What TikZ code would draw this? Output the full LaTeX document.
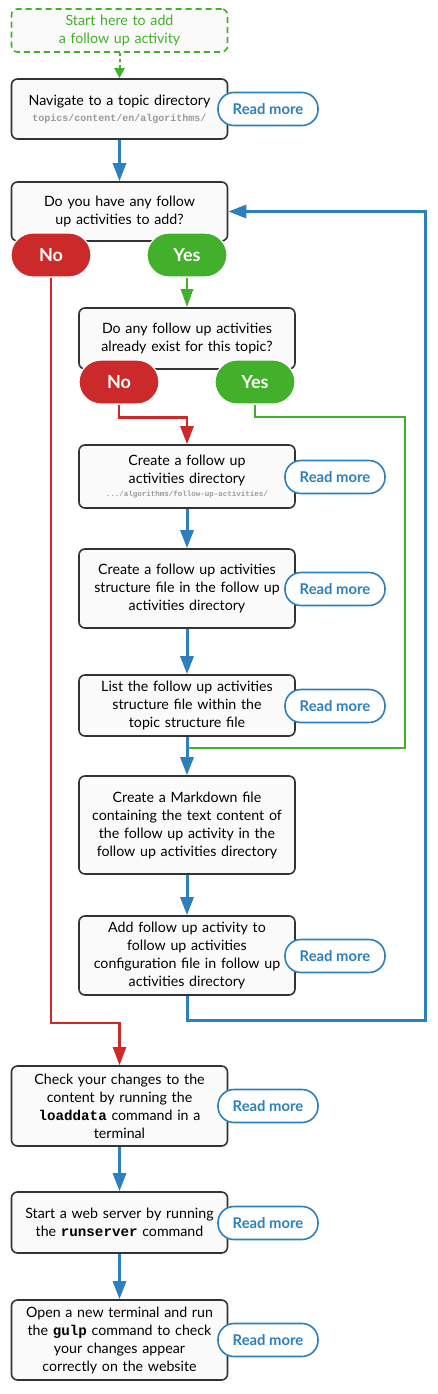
\documentclass[tikz,border=0pt]{standalone}
\usepackage{fontspec}
\setmainfont{Lato}
\newfontfamily\codefont{Liberation Mono}
\usetikzlibrary{arrows.meta}

\definecolor{flowblue}{HTML}{2B80BD}
\definecolor{flowred}{HTML}{CC2A2A}
\definecolor{flowgreen}{HTML}{42B02A}
\definecolor{boxline}{HTML}{333333}
\definecolor{boxfill}{HTML}{FAFAFA}
\definecolor{pathgray}{HTML}{999999}

\newcommand{\cmd}[1]{{\codefont\bfseries #1}}
\newcommand{\pathtext}[2]{{\codefont\bfseries\fontsize{#1}{10}\selectfont\color{pathgray}#2}}

\begin{document}
\begin{tikzpicture}[x=1pt, y=-1pt,
    stepbox/.style={draw=boxline, line width=1.6pt, fill=boxfill, rounded corners=6pt,
        minimum width=216pt, text width=214pt, align=center, inner sep=0pt,
        font=\fontsize{14.2}{18}\selectfont},
    startbox/.style={stepbox, draw=flowgreen, dash pattern=on 6pt off 4pt, text=flowgreen},
    readmore/.style={draw=flowblue, line width=1.6pt, fill=white, rounded corners=16pt,
        minimum width=100pt, minimum height=33pt, inner sep=0pt, text=flowblue,
        font=\fontsize{14.8}{16}\selectfont\bfseries},
    answer/.style={draw=white, line width=1.2pt, rounded corners=22pt, minimum width=80pt,
        minimum height=44pt, inner sep=0pt, text=white, font=\fontsize{18}{20}\selectfont\bfseries},
    noanswer/.style={answer, fill=flowred},
    yesanswer/.style={answer, fill=flowgreen},
    blueflow/.style={draw=flowblue, line width=3pt, -{Triangle[length=18pt,width=13pt]}},
    redflow/.style={draw=flowred, line width=2.5pt, -{Triangle[length=18pt,width=13pt]}},
    greenflow/.style={draw=flowgreen, line width=2.5pt, -{Triangle[length=18pt,width=12pt]}},
]
\useasboundingbox (0,0) rectangle (437,1394);

    % Start
    \node[startbox, minimum height=43pt] (start) at (119.5,30.5) {Start here to add\\a follow up activity};

    % Topic directory
    \node[stepbox, minimum height=60pt] (nav) at (119.5,109)
        {Navigate to a topic directory\\[-2pt]\pathtext{10}{topics/content/en/algorithms/}};
    \node[readmore] (rmnav) at (268,109) {Read more};

    % First question
    \node[stepbox, minimum height=59pt] (haveq) at (119.5,211.5) {Do you have any follow\\up activities to add?};
    \node[noanswer] (noa) at (51,255) {No};
    \node[yesanswer] (yesa) at (187,255) {Yes};

    % Second question
    \node[stepbox, minimum height=61pt] (existq) at (187,338.5) {Do any follow up activities\\already exist for this topic?};
    \node[noanswer] (nob) at (119,382) {No};
    \node[yesanswer] (yesb) at (255,382) {Yes};

    % Follow up activities directory
    \node[stepbox, minimum height=63pt] (mkdir) at (187,476.5)
        {Create a follow up\\activities directory\\[-5pt]\pathtext{7.5}{.../algorithms/follow-up-activities/}};
    \node[readmore] (rmmkdir) at (335,477) {Read more};

    \node[stepbox, minimum height=79pt] (structfile) at (187,588.5)
        {Create a follow up activities\\structure file in the follow up\\activities directory};
    \node[readmore] (rmstruct) at (335,589) {Read more};

    \node[stepbox, minimum height=61pt] (listfile) at (187,705.5)
        {List the follow up activities\\structure file within the\\topic structure file};
    \node[readmore] (rmlist) at (335,706) {Read more};

    \node[stepbox, minimum height=98pt] (mdfile) at (187,825)
        {Create a Markdown file\\containing the text content of\\the follow up activity in the\\follow up activities directory};

    \node[stepbox, minimum height=79pt] (config) at (187,955.5)
        {Add follow up activity to\\follow up activities\\configuration file in follow up\\activities directory};
    \node[readmore] (rmconfig) at (335,956) {Read more};

    % Checking the changes
    \node[stepbox, minimum height=80pt] (check) at (119.5,1106)
        {Check your changes to the\\content by running the\\\cmd{loaddata} command in a\\terminal};
    \node[readmore] (rmcheck) at (268,1106) {Read more};

    \node[stepbox, minimum height=61pt] (server) at (119.5,1222.5)
        {Start a web server by running\\the \cmd{runserver} command};
    \node[readmore] (rmserver) at (268,1223) {Read more};

    \node[stepbox, minimum height=80pt] (gulp) at (119.5,1340)
        {Open a new terminal and run\\the \cmd{gulp} command to check\\your changes appear\\correctly on the website};
    \node[readmore] (rmgulp) at (268,1340) {Read more};

    % Connectors
    \draw[flowgreen, line width=2pt, dash pattern=on 3pt off 3pt, -{Triangle[length=10pt,width=10pt]}] (start) -- (nav);
    \draw[blueflow] (nav) -- (haveq);
    \draw[greenflow] (yesa) -- (existq);

    \coordinate (redturn) at (51,1023);
    \draw[redflow] (noa.south) -- (redturn) -| (check.north);

    \draw[redflow] (nob.south) -- ++(0,13) -| (mkdir.north);

    \coordinate (greenturn) at (405,417);
    \coordinate (greenjoin) at (187,748);
    \draw[flowgreen, line width=2.5pt] (yesb.south) |- (greenturn) |- (greenjoin);

    \draw[blueflow] (mkdir) -- (structfile);
    \draw[blueflow] (structfile) -- (listfile);
    \draw[blueflow] (listfile) -- (mdfile);
    \draw[blueflow] (mdfile) -- (config);

    \coordinate (loopturn) at (425,1020);
    \draw[blueflow] (config.south) |- (loopturn) |- (haveq.east);

    \draw[blueflow] (check) -- (server);
    \draw[blueflow] (server) -- (gulp);

\end{tikzpicture}
\end{document}
